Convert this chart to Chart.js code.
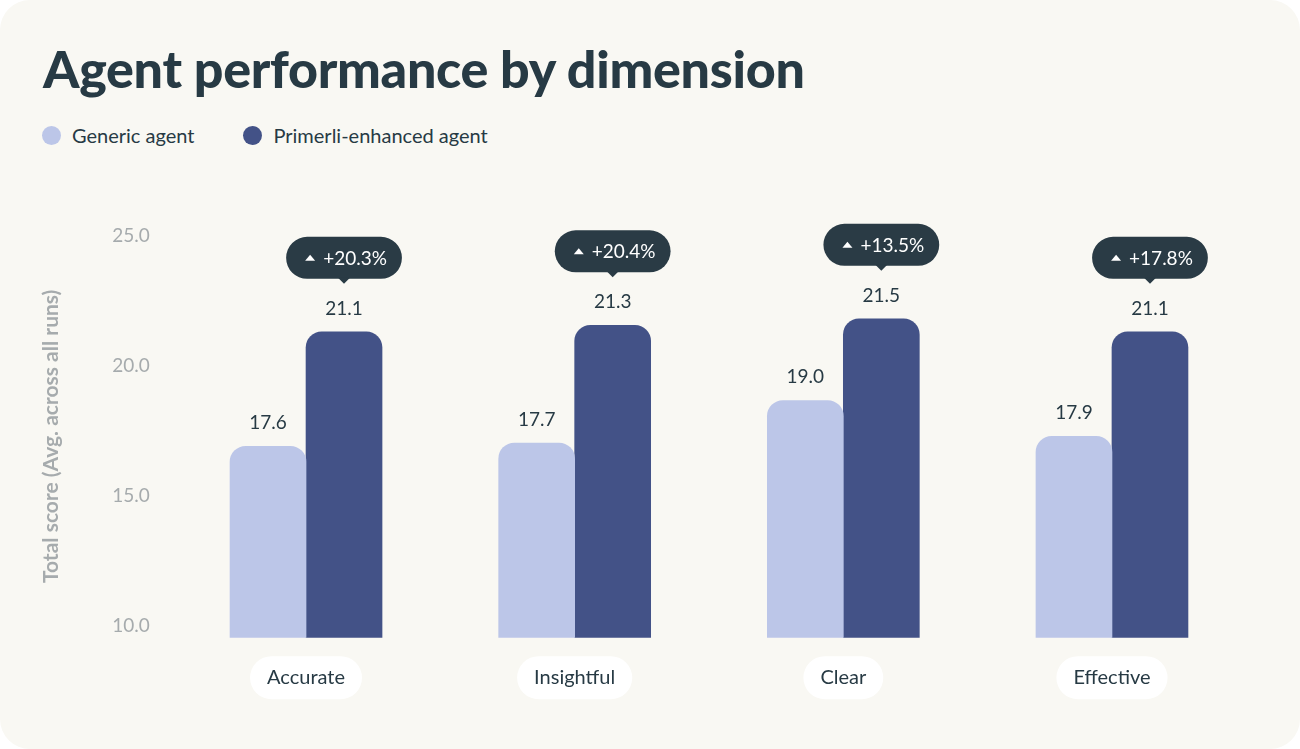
<!DOCTYPE html>
<html>
<head>
<meta charset="utf-8">
<title>Agent performance by dimension</title>
<script src="https://cdn.jsdelivr.net/npm/chart.js@4.4.1/dist/chart.umd.min.js"></script>
<style>
    html, body { margin: 0; padding: 0; background: #ffffff; }
    .card {
        position: relative;
        width: 1300px;
        height: 749px;
        background: #f9f8f3;
        border-radius: 30px;
        overflow: hidden;
        font-family: Lato, 'Noto Sans', sans-serif;
        color: #273a44;
    }
    .card h1 {
        position: absolute;
        left: 43px;
        top: 42px;
        margin: 0;
        font-size: 52px;
        line-height: 52px;
        font-weight: 900;
        letter-spacing: -0.3px;
        white-space: nowrap;
    }
    .legend {
        position: absolute;
        left: 42px;
        top: 123px;
        height: 24px;
        display: flex;
        align-items: center;
        gap: 49px;
        font-size: 20px;
    }
    .legend span { display: flex; align-items: center; }
    .legend i {
        display: inline-block;
        width: 19px;
        height: 19px;
        border-radius: 50%;
        margin-right: 11px;
    }
    .chart-box { position: absolute; left: 0; top: 0; width: 1300px; height: 749px; }
</style>
</head>
<body>
<div class="card">
    <h1>Agent performance by dimension</h1>
    <div class="legend" id="legend"></div>
    <div class="chart-box"><canvas id="scoreChart"></canvas></div>
</div>
<script>
// chart data
const categories = ['Accurate', 'Insightful', 'Clear', 'Effective'];
const seriesNames = ['Generic agent', 'Primerli-enhanced agent'];
const genericScores = [17.6, 17.7, 19.0, 17.9];
const enhancedScores = [21.1, 21.3, 21.5, 21.1];
const upliftLabels = ['+20.3%', '+20.4%', '+13.5%', '+17.8%'];
const yTicks = [10, 15, 20, 25];

const COLORS = {
    generic: '#bcc6e8',
    enhanced: '#435287',
    ink: '#273a44',
    badge: '#2a3b45',
    axis: '#a6abad'
};
const FONT = 'Lato, "Noto Sans", sans-serif';

// html legend
document.getElementById('legend').innerHTML = seriesNames.map((name, i) =>
    '<span><i style="background:' + (i === 0 ? COLORS.generic : COLORS.enhanced) + '"></i>' + name + '</span>'
).join('');

function pill(ctx, x, y, w, h) {
    const r = h / 2;
    ctx.beginPath();
    ctx.moveTo(x + r, y);
    ctx.lineTo(x + w - r, y);
    ctx.arc(x + w - r, y + r, r, -Math.PI / 2, Math.PI / 2);
    ctx.lineTo(x + r, y + h);
    ctx.arc(x + r, y + r, r, Math.PI / 2, Math.PI * 1.5);
    ctx.closePath();
}

// white pills behind the category ticks
const categoryPills = {
    id: 'categoryPills',
    beforeDraw(chart) {
        const xs = chart.scales.x;
        const opts = xs.options.ticks;
        const ctx = chart.ctx;
        const cy = xs.top + opts.padding + opts.font.size * 1.2 / 2;
        ctx.save();
        ctx.font = opts.font.size + 'px ' + FONT;
        ctx.fillStyle = '#ffffff';
        categories.forEach((c, i) => {
            const cx = xs.getPixelForTick(i);
            const w = ctx.measureText(c).width + 34;
            pill(ctx, cx - w / 2, cy - 21.5, w, 43);
            ctx.fill();
        });
        ctx.restore();
    }
};

// value labels and uplift badges
const barLabels = {
    id: 'barLabels',
    afterDatasetsDraw(chart) {
        const ctx = chart.ctx;
        ctx.save();
        ctx.font = '19px ' + FONT;
        ctx.textAlign = 'center';
        ctx.textBaseline = 'alphabetic';
        chart.data.datasets.forEach((ds, di) => {
            chart.getDatasetMeta(di).data.forEach((bar, i) => {
                ctx.fillStyle = COLORS.ink;
                ctx.fillText(ds.data[i].toFixed(1), bar.x, bar.y - 17);
            });
        });

        // badges over the enhanced bars
        chart.getDatasetMeta(1).data.forEach((bar, i) => {
            const txt = upliftLabels[i];
            const tw = ctx.measureText(txt).width;
            const w = 19 + 10 + 8 + tw + 15;
            const h = 42;
            const bottom = bar.y - 53;
            const x0 = bar.x - w / 2;
            const cy = bottom - h / 2;
            ctx.fillStyle = COLORS.badge;
            pill(ctx, x0, bottom - h, w, h);
            ctx.fill();
            ctx.beginPath();
            ctx.moveTo(bar.x - 6, bottom - 1);
            ctx.lineTo(bar.x, bottom + 5);
            ctx.lineTo(bar.x + 6, bottom - 1);
            ctx.closePath();
            ctx.fill();
            // small up arrow
            const tx = x0 + 19;
            ctx.fillStyle = '#ffffff';
            ctx.beginPath();
            ctx.moveTo(tx, cy + 3);
            ctx.lineTo(tx + 10, cy + 3);
            ctx.lineTo(tx + 5, cy - 3);
            ctx.closePath();
            ctx.fill();
            ctx.textAlign = 'left';
            ctx.textBaseline = 'middle';
            ctx.fillText(txt, tx + 18, cy + 1);
            ctx.textAlign = 'center';
            ctx.textBaseline = 'alphabetic';
        });
        ctx.restore();
    }
};

const ctx = document.getElementById('scoreChart').getContext('2d');
new Chart(ctx, {
    type: 'bar',
    data: {
        labels: categories,
        datasets: [{
            label: seriesNames[0],
            data: genericScores,
            backgroundColor: COLORS.generic,
            yAxisID: 'yb',
            barThickness: 76,
            borderRadius: 16
        }, {
            label: seriesNames[1],
            data: enhancedScores,
            backgroundColor: COLORS.enhanced,
            yAxisID: 'yb',
            barThickness: 76,
            borderRadius: 16
        }]
    },
    options: {
        responsive: true,
        maintainAspectRatio: false,
        animation: false,
        layout: {
            padding: { top: 235, left: 30, right: 53.7, bottom: 0 }
        },
        plugins: {
            legend: { display: false },
            tooltip: { enabled: false }
        },
        scales: {
            x: {
                grid: { display: false, drawTicks: false },
                border: { display: false },
                ticks: {
                    color: COLORS.ink,
                    padding: 28,
                    font: { family: FONT, size: 20 }
                },
                afterFit(scale) { scale.height = 111.3; }
            },
            y: {
                position: 'left',
                min: 9.531,
                max: 25.02,
                afterBuildTicks(axis) {
                    axis.ticks = yTicks.map(v => ({ value: v }));
                },
                grid: { display: false, drawTicks: false },
                border: { display: false },
                ticks: {
                    color: COLORS.axis,
                    padding: 22,
                    font: { family: FONT, size: 19 },
                    callback: v => v.toFixed(1)
                },
                title: {
                    display: true,
                    text: 'Total score (Avg. across all runs)',
                    color: COLORS.axis,
                    padding: { top: 9, bottom: 0 },
                    font: { family: FONT, size: 21, weight: 'bold' }
                },
                afterFit(scale) { scale.width = 141.7; }
            },
            // bar scale, fitted to the bar heights in the source picture
            yb: {
                display: false,
                min: 11.741,
                max: 24.064
            }
        }
    },
    plugins: [categoryPills, barLabels]
});
</script>
</body>
</html>
